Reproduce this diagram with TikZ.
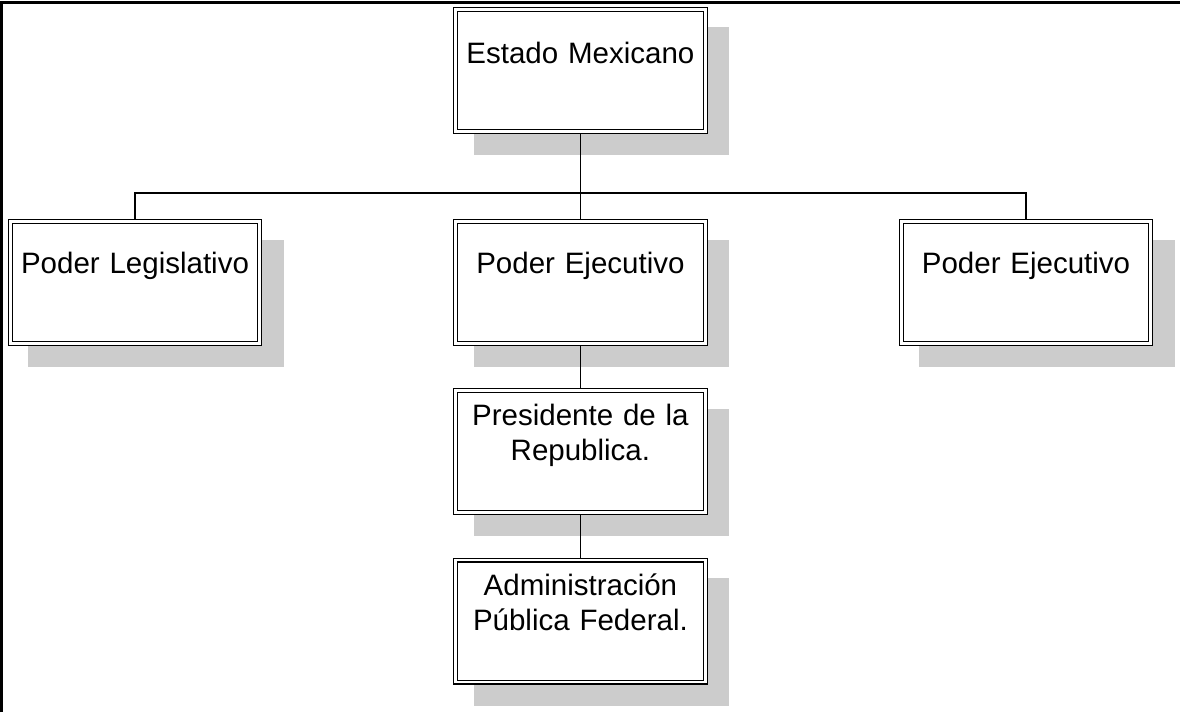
\documentclass[tikz,border=0pt]{standalone}
\usepackage{fontspec}
\setmainfont{Liberation Sans}
\usetikzlibrary{backgrounds}
\definecolor{shadowgray}{RGB}{204,204,204}
\tikzset{
  orgbox/.style={draw=black, fill=white, double=white, double distance=2.8pt, line width=1.1pt,
    minimum width=249.5pt, minimum height=122pt, inner sep=0pt, outer sep=0pt},
  orgtext/.style={anchor=base, inner sep=0pt, text width=245pt, align=center,
    font=\fontsize{29.5}{35}\selectfont},
  link/.style={draw=black, line width=1.2pt},
  frameline/.style={draw=black, line width=2.5pt}
}
\newcommand{\boxshadow}[1]{\fill[shadowgray] ([shift={(18.1,18.1)}]#1.north west) rectangle ([shift={(23.9,23.9)}]#1.south east);}
\begin{document}
\begin{tikzpicture}[x=1pt,y=-1pt]
\useasboundingbox (0,0) rectangle (1180,712);
\draw[frameline] (1.3,712) -- (1.3,2.3) -- (1180,2.3);

\node[orgbox] (top) at (580.4,70.3) {};
\node[orgbox] (leg) at (135,282.5) {};
\node[orgbox] (mid) at (580.4,282.5) {};
\node[orgbox] (rgt) at (1026,282.5) {};
\node[orgbox] (pres) at (580.4,451.5) {};
\node[orgbox] (adm) at (580.4,621) {};

\node[orgtext] (ttop) at (580.4,63) {Estado Mexicano};
\node[orgtext] (tleg) at (135,273) {Poder Legislativo};
\node[orgtext] (tmid) at (580.4,273) {Poder Ejecutivo};
\node[orgtext] (trgt) at (1026,273) {Poder Ejecutivo};
\node[orgtext] (tpres) at (580.4,425) {Presidente de la\\Republica.};
\node[orgtext] (tadm) at (580.4,595) {Administración\\Pública Federal.};

\coordinate (bus) at (0,193);
\begin{pgfonlayer}{background}
\boxshadow{top}
\boxshadow{leg}
\boxshadow{mid}
\boxshadow{rgt}
\boxshadow{pres}
\boxshadow{adm}
\draw[link] (top.south) -- (mid.north);
\draw[link] (leg.north) -- (leg.north |- bus) -- (rgt.north |- bus) -- (rgt.north);
\draw[link] (mid.south) -- (pres.north);
\draw[link] (pres.south) -- (adm.north);
\end{pgfonlayer}
\end{tikzpicture}
\end{document}
